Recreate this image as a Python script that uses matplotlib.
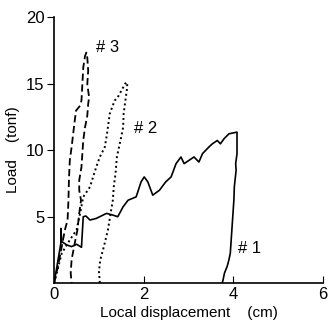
import numpy as np
import matplotlib
matplotlib.use("Agg")
import matplotlib.pyplot as plt

plt.rcParams['font.family'] = ['Liberation Sans', 'DejaVu Sans']

# ---------------- datos ----------------
# probeta #1 (linea continua)
x1 = [0, 0.15, 0.15, 0.17, 0.28, 0.39, 0.50, 0.61, 0.65, 0.71, 0.80, 0.94, 1.17, 1.31,
      1.42, 1.54, 1.65, 1.83, 1.94, 2.01, 2.09, 2.20, 2.35, 2.49, 2.61, 2.72, 2.83,
      2.90, 3.01, 3.12, 3.23, 3.31, 3.45, 3.53, 3.64, 3.71, 3.79, 3.90, 4.08,
      4.08, 4.05, 4.06, 4.02, 4.01, 3.99, 3.97, 3.95, 3.93, 3.90, 3.86, 3.80, 3.77, 3.75]
y1 = [0, 2.99, 4.11, 3.12, 2.87, 2.74, 2.92, 2.69, 4.99, 5.04, 4.74, 4.86, 5.24, 5.11,
      4.99, 5.74, 6.23, 6.48, 7.61, 7.98, 7.61, 6.61, 6.98, 7.61, 7.98, 8.98, 9.48,
      8.98, 9.23, 9.48, 9.10, 9.73, 10.22, 10.47, 10.72, 10.47, 10.85, 11.22, 11.35,
      9.73, 8.98, 8.48, 7.23, 6.23, 5.24, 4.24, 3.24, 2.24, 1.75, 1.25, 0.75, 0.25, 0]

# probeta #2 (punteada)
x2 = [0, 0.17, 0.35, 0.50, 0.58, 0.65, 0.80, 0.94, 1.02, 1.13, 1.18, 1.24, 1.35, 1.42,
      1.50, 1.59, 1.63, 1.63, 1.59, 1.55, 1.54, 1.48, 1.40, 1.37, 1.33, 1.31, 1.26,
      1.20, 1.11, 1.03, 1.00, 1.02]
y2 = [0, 2.24, 3.24, 3.99, 5.24, 6.48, 7.23, 8.73, 9.48, 10.22, 11.22, 12.72, 13.72, 13.97,
      14.46, 15.01, 15.09, 14.71, 13.72, 12.72, 11.72, 10.72, 9.48, 8.23, 7.23, 6.23, 5.24,
      3.99, 2.74, 1.75, 0.87, 0]

# probeta #3 (discontinua)
x3 = [0, 0.10, 0.17, 0.24, 0.30, 0.32, 0.33, 0.35, 0.39, 0.46, 0.49, 0.58, 0.61, 0.63,
      0.65, 0.69, 0.72, 0.74, 0.76, 0.74, 0.78, 0.76, 0.74, 0.69, 0.65, 0.63, 0.61,
      0.56, 0.56, 0.60, 0.56, 0.52, 0.46, 0.39, 0.37, 0.39]
y3 = [0, 1.50, 2.74, 3.99, 4.74, 6.23, 7.73, 9.23, 10.22, 12.22, 12.97, 13.34, 13.72, 14.96,
      16.21, 17.08, 17.33, 16.96, 15.96, 14.96, 13.97, 13.47, 12.59, 11.72, 10.72, 9.73, 8.73,
      7.73, 6.98, 6.23, 5.24, 3.99, 2.99, 1.75, 0.75, 0]

etiquetas = ["# 1", "# 2", "# 3"]
pos_etiquetas = [(4.35, 2.6), (2.05, 11.6), (1.2, 17.7)]

# ---------------- grafico ----------------
fig = plt.figure(figsize=(3.28, 3.28), dpi=100)
ax = fig.add_axes([0.165, 0.137, 0.82, 0.811])

ax.plot(x1, y1, color="black", lw=1.2, ls="-")
ax.plot(x2, y2, color="black", lw=1.4, ls=(0, (1.0, 1.5)))
ax.plot(x3, y3, color="black", lw=1.3, ls=(0, (4, 2)))

for t, (xt, yt) in zip(etiquetas, pos_etiquetas):
    ax.text(xt, yt, t, fontsize=12, ha="center", va="center")

ax.set_xlim(0, 6)
ax.set_ylim(0, 20)
ax.spines["top"].set_visible(False)
ax.spines["right"].set_visible(False)
ax.spines["left"].set_linewidth(1.2)
ax.spines["bottom"].set_linewidth(1.2)

ax.set_xticks([0, 2, 4, 6])
ax.set_yticks([5, 10, 15, 20])
ax.tick_params(axis="x", direction="in", length=5, labelsize=12, pad=3)
ax.tick_params(axis="y", direction="out", length=5, labelsize=12, pad=2)

ax.set_xlabel("Local displacement    (cm)", fontsize=11, labelpad=3)
ax.set_ylabel("Load    (tonf)", fontsize=11, labelpad=4)

fig.savefig("out.png", dpi=100)
